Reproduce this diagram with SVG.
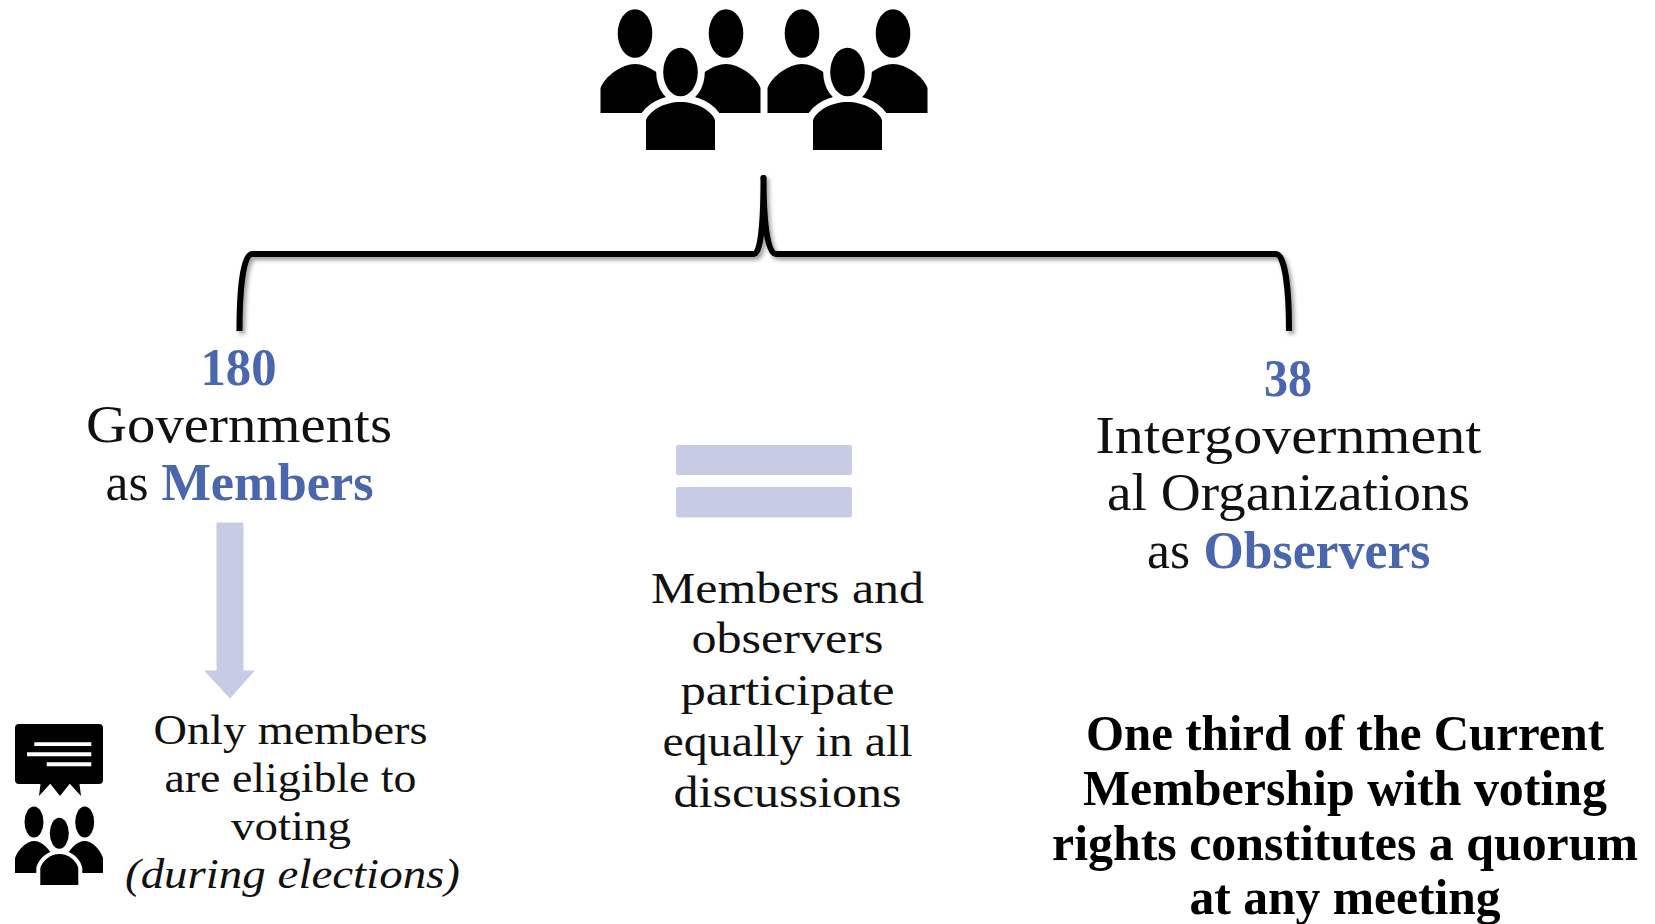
<svg xmlns="http://www.w3.org/2000/svg" width="1655" height="924" viewBox="0 0 1655 924">
<style>
text{font-family:"Liberation Serif","DejaVu Serif",serif;fill:#111}
.c{text-anchor:middle}
.b{fill:#4a66ac;font-weight:bold;font-size:52px}
.m{font-size:52px}
.s{font-size:44px}
.v{font-size:42px}
.q{font-size:50px;font-weight:bold;fill:#000}
.halo{fill:#fff;stroke:#fff;stroke-linejoin:round}
</style>
<defs>
<filter id="sh" x="-5%" y="-10%" width="110%" height="125%"><feDropShadow dx="2.5" dy="3" stdDeviation="2.2" flood-color="#000" flood-opacity="0.4"/></filter>
<g id="crowd">
<ellipse cx="635" cy="33.500" rx="17.300" ry="24.300"/>
<ellipse cx="726" cy="33.500" rx="17.300" ry="24.300"/>
<path d="M600.500 113V88C605 76 622 64 635 64C648 64 665 76 670 88V113Z"/>
<path d="M691 113V88C696 76 713 64 726 64C739 64 756 76 760.500 88V113Z"/>
<path class="halo" stroke-width="14" d="M646 150V120C650 110 665 102 680.500 102C696 102 711 110 715 120V150Z"/>
<ellipse class="halo" stroke-width="14" cx="680.500" cy="72" rx="17.300" ry="24.300"/>
<ellipse cx="680.500" cy="72" rx="17.300" ry="24.300"/>
<path d="M646 150V120C650 110 665 102 680.500 102C696 102 711 110 715 120V150Z"/>
</g>
</defs>
<rect width="1655" height="924" fill="#fff"/>
<g id="connectors">
<g id="brace" filter="url(#sh)">
<path d="M239.500 331C239.500 290 243 254 252 254H754C761 254 763.500 220 763.500 178C763.500 220 767 254 776 254H1276C1285 254 1289 290 1289 331" fill="none" stroke="#000" stroke-width="6" stroke-linejoin="round"/>
<circle cx="763.500" cy="178" r="3"/>
</g>
<path id="down-arrow" d="M217 523H243V671H254L230 698L205 671H217Z" fill="#c7cbe6" stroke="#c7cbe6" stroke-width="1" stroke-linejoin="round"/>
</g>
<g id="people-large"><use href="#crowd"/><use href="#crowd" x="167"/></g>
<g id="equals"><rect x="676" y="445" width="176" height="30" rx="2" fill="#c7cbe6"/><rect x="676" y="487" width="176" height="30.500" rx="2" fill="#c7cbe6"/></g>
<g id="members">
<text class="b c" x="238.500" y="385" textLength="76" lengthAdjust="spacingAndGlyphs">180</text>
<text class="m c" x="239" y="442" textLength="306" lengthAdjust="spacingAndGlyphs">Governments</text>
<text class="m" x="105.500" y="500" textLength="43" lengthAdjust="spacingAndGlyphs">as</text>
<text class="b" x="161.500" y="500" textLength="212" lengthAdjust="spacingAndGlyphs">Members</text>
</g>
<g id="observers">
<text class="b c" x="1288" y="395.500" textLength="48" lengthAdjust="spacingAndGlyphs">38</text>
<text class="m c" x="1288.500" y="453" textLength="386" lengthAdjust="spacingAndGlyphs">Intergovernment</text>
<text class="m c" x="1288.500" y="510" textLength="363" lengthAdjust="spacingAndGlyphs">al Organizations</text>
<text class="m" x="1147" y="568" textLength="43" lengthAdjust="spacingAndGlyphs">as</text>
<text class="b" x="1203.500" y="568" textLength="227" lengthAdjust="spacingAndGlyphs">Observers</text>
</g>
<g id="equal-note">
<text class="s c" x="787.500" y="602.500" textLength="273" lengthAdjust="spacingAndGlyphs">Members and</text>
<text class="s c" x="787.500" y="653" textLength="192" lengthAdjust="spacingAndGlyphs">observers</text>
<text class="s c" x="787.500" y="705" textLength="214" lengthAdjust="spacingAndGlyphs">participate</text>
<text class="s c" x="787.500" y="756" textLength="250" lengthAdjust="spacingAndGlyphs">equally in all</text>
<text class="s c" x="787.500" y="807" textLength="228" lengthAdjust="spacingAndGlyphs">discussions</text>
</g>
<g id="voting-note">
<text class="v c" x="290.500" y="744" textLength="274" lengthAdjust="spacingAndGlyphs">Only members</text>
<text class="v c" x="290.500" y="792" textLength="252" lengthAdjust="spacingAndGlyphs">are eligible to</text>
<text class="v c" x="291" y="840" textLength="120" lengthAdjust="spacingAndGlyphs">voting</text>
<text class="v c" x="292.500" y="887.500" textLength="335" lengthAdjust="spacingAndGlyphs" font-style="italic">(during elections)</text>
</g>
<g id="vote-icon">
<path d="M19 724H99Q103 724 103 728V780Q103 784 99 784H79.500L81 796L70 784H69.500L60 796L50.500 784H50L39 796L40.500 784H19Q15 784 15 780V728Q15 724 19 724Z"/>
<path d="M34.300 742.300H91.300V746H34.300ZM27 752.300H91.300V756.300H27ZM46.700 762.300H91.300V766.300H46.700Z" fill="#fff"/>
<ellipse cx="34" cy="822" rx="9.500" ry="15.500"/>
<ellipse cx="84.700" cy="822" rx="9.500" ry="15.500"/>
<path d="M15 873V858C18 849 27 841 34 841C42 841 50 849 53 858V873Z"/>
<path d="M66 873V858C69 849 77 841 84.700 841C92 841 100 849 103 858V873Z"/>
<path class="halo" stroke-width="8" d="M40.300 885V868C43 860 51 854 59.300 854C68 854 76 860 78.300 868V885Z"/>
<ellipse class="halo" stroke-width="8" cx="59.300" cy="833.300" rx="9.500" ry="15.500"/>
<ellipse cx="59.300" cy="833.300" rx="9.500" ry="15.500"/>
<path d="M40.300 885V868C43 860 51 854 59.300 854C68 854 76 860 78.300 868V885Z"/>
</g>
<g id="quorum">
<text class="q c" x="1345" y="750" textLength="518" lengthAdjust="spacingAndGlyphs">One third of the Current</text>
<text class="q c" x="1345" y="805" textLength="524" lengthAdjust="spacingAndGlyphs">Membership with voting</text>
<text class="q c" x="1345" y="859.500" textLength="586" lengthAdjust="spacingAndGlyphs">rights constitutes a quorum</text>
<text class="q c" x="1345" y="914" textLength="311" lengthAdjust="spacingAndGlyphs">at any meeting</text>
</g>
</svg>
